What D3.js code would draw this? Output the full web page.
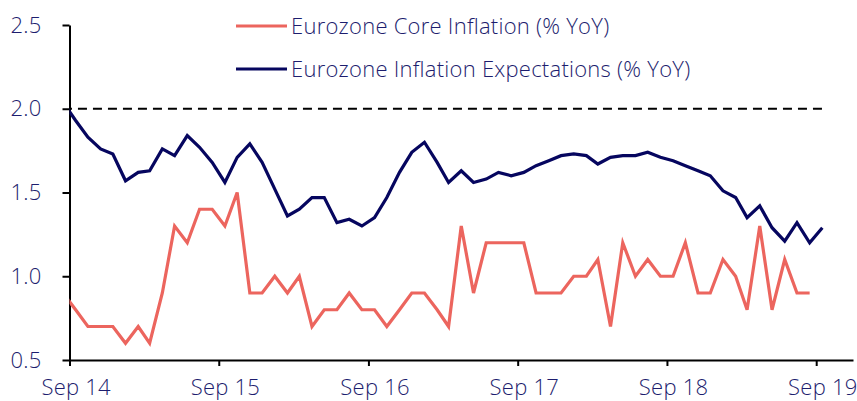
<!DOCTYPE html>
<html>
<head>
<meta charset="utf-8">
<script src="https://cdn.jsdelivr.net/npm/d3@7"></script>
<style>
  html, body { margin: 0; padding: 0; background: #fff; }
  svg { display: block; }
  text { font-family: "Open Sans", "Noto Sans", sans-serif; font-weight: 300; fill: #1d1d6e; letter-spacing: 0.25px; }
</style>
</head>
<body>
<svg id="chart" width="857" height="401"></svg>
<script>
// ---- Data (monthly, Aug 2014 .. Sep 2019) ----
const startMonth = "2014-08";
const coreInflation = [
  0.9, 0.8, 0.7, 0.7, 0.7, 0.6, 0.7, 0.6, 0.9, 1.3, 1.2, 1.4, 1.4, 1.3, 1.5, 0.9,
  0.9, 1.0, 0.9, 1.0, 0.7, 0.8, 0.8, 0.9, 0.8, 0.8, 0.7, 0.8, 0.9, 0.9, 0.8, 0.7,
  1.3, 0.9, 1.2, 1.2, 1.2, 1.2, 0.9, 0.9, 0.9, 1.0, 1.0, 1.1, 0.7, 1.2, 1.0, 1.1,
  1.0, 1.0, 1.2, 0.9, 0.9, 1.1, 1.0, 0.8, 1.3, 0.8, 1.1, 0.9, 0.9
];
const inflationExpectations = [
  2.04, 1.93, 1.83, 1.76, 1.73, 1.57, 1.62, 1.63, 1.76, 1.72, 1.84, 1.77, 1.68, 1.56, 1.71, 1.79,
  1.68, 1.52, 1.36, 1.40, 1.47, 1.47, 1.32, 1.34, 1.30, 1.35, 1.47, 1.62, 1.74, 1.80, 1.68, 1.56,
  1.63, 1.56, 1.58, 1.62, 1.60, 1.62, 1.66, 1.69, 1.72, 1.73, 1.72, 1.67, 1.71, 1.72, 1.72, 1.74,
  1.71, 1.69, 1.66, 1.63, 1.60, 1.51, 1.47, 1.35, 1.42, 1.29, 1.21, 1.32, 1.20, 1.29
];
const targetLevel = 2.0;
const seriesNames = ["Eurozone Core Inflation (% YoY)", "Eurozone Inflation Expectations (% YoY)"];
const yTicks = [0.5, 1.0, 1.5, 2.0, 2.5];
const xTickLabels = ["Sep 14", "Sep 15", "Sep 16", "Sep 17", "Sep 18", "Sep 19"];
const xTickDates = ["2014-09-01", "2015-09-01", "2016-09-01", "2017-09-01", "2018-09-01", "2019-09-01"];

// ---- Setup ----
const colors = ["#EC655E", "#06065F"];
const textColor = "#1d1d6e";
const parseMonth = d3.timeParse("%Y-%m");
const parseDay = d3.timeParse("%Y-%m-%d");
const m0 = parseMonth(startMonth);
// each monthly observation plotted at mid-month
const dates = d3.range(inflationExpectations.length).map(i => d3.timeDay.offset(d3.timeMonth.offset(m0, i), 15));

const svg = d3.select("#chart");
const plotLeft = 69.5, plotRight = 853, plotTop = 25, plotBottom = 360;

const x = d3.scaleTime()
  .domain([parseDay("2014-09-01"), parseDay("2019-11-30")])
  .range([plotLeft, plotRight]);
const y = d3.scaleLinear().domain([0.5, 2.5]).range([plotBottom, plotTop]);

svg.append("defs").append("clipPath").attr("id", "plot")
  .append("rect").attr("x", plotLeft).attr("y", 0).attr("width", plotRight - plotLeft).attr("height", plotBottom + 2);

const fontSize = 22;

// Y axis
const yAxis = svg.append("g").attr("transform", `translate(${plotLeft},0)`)
  .call(d3.axisLeft(y).tickValues(yTicks).tickFormat(d3.format(".1f")).tickSize(7).tickSizeOuter(0).tickPadding(21));
yAxis.select(".domain").attr("stroke", "#000").attr("stroke-width", 2);
yAxis.selectAll(".tick line").attr("stroke", "#000").attr("stroke-width", 2);
yAxis.selectAll("text").style("font-size", fontSize + "px").attr("fill", textColor);

// X axis
const tickDates = xTickDates.map(parseDay);
const xAxis = svg.append("g").attr("transform", `translate(0,${plotBottom})`)
  .call(d3.axisBottom(x).tickValues(tickDates).tickFormat((d, i) => xTickLabels[i]).tickSize(6).tickSizeOuter(0).tickPadding(13));
xAxis.select(".domain").attr("stroke", "#000").attr("stroke-width", 2);
xAxis.selectAll(".tick line").attr("stroke", "#000").attr("stroke-width", 2);
xAxis.selectAll("text").style("font-size", fontSize + "px").attr("fill", textColor)
  .attr("x", d => x(d3.timeDay.offset(d, 15)) - x(d));

const plot = svg.append("g").attr("clip-path", "url(#plot)");

// Target dashed line
plot.append("path")
  .datum(dates)
  .attr("fill", "none").attr("stroke", "#000").attr("stroke-width", 2)
  .attr("stroke-dasharray", "9,6")
  .attr("d", d3.line().x(d => x(d)).y(() => y(targetLevel)));

const line = d3.line().x(d => x(d.date)).y(d => y(d.v));
const seriesData = [coreInflation, inflationExpectations].map(arr => arr.map((v, i) => ({ date: dates[i], v })));

plot.selectAll("path.series").data(seriesData).join("path")
  .attr("class", "series")
  .attr("fill", "none")
  .attr("stroke", (d, i) => colors[i])
  .attr("stroke-width", 3.2)
  .attr("stroke-linejoin", "miter")
  .attr("d", line);

// Legend
const legend = svg.append("g").attr("transform", "translate(236,26)");
const items = legend.selectAll("g").data(seriesNames).join("g")
  .attr("transform", (d, i) => `translate(0,${i * 43})`);
items.append("line").attr("x1", 0).attr("x2", 51).attr("y1", 0).attr("y2", 0)
  .attr("stroke", (d, i) => colors[i]).attr("stroke-width", 3.2);
items.append("text").attr("x", 55).attr("y", 0).attr("dy", "0.35em")
  .style("font-size", fontSize + "px").attr("fill", textColor).text(d => d);
</script>
</body>
</html>
